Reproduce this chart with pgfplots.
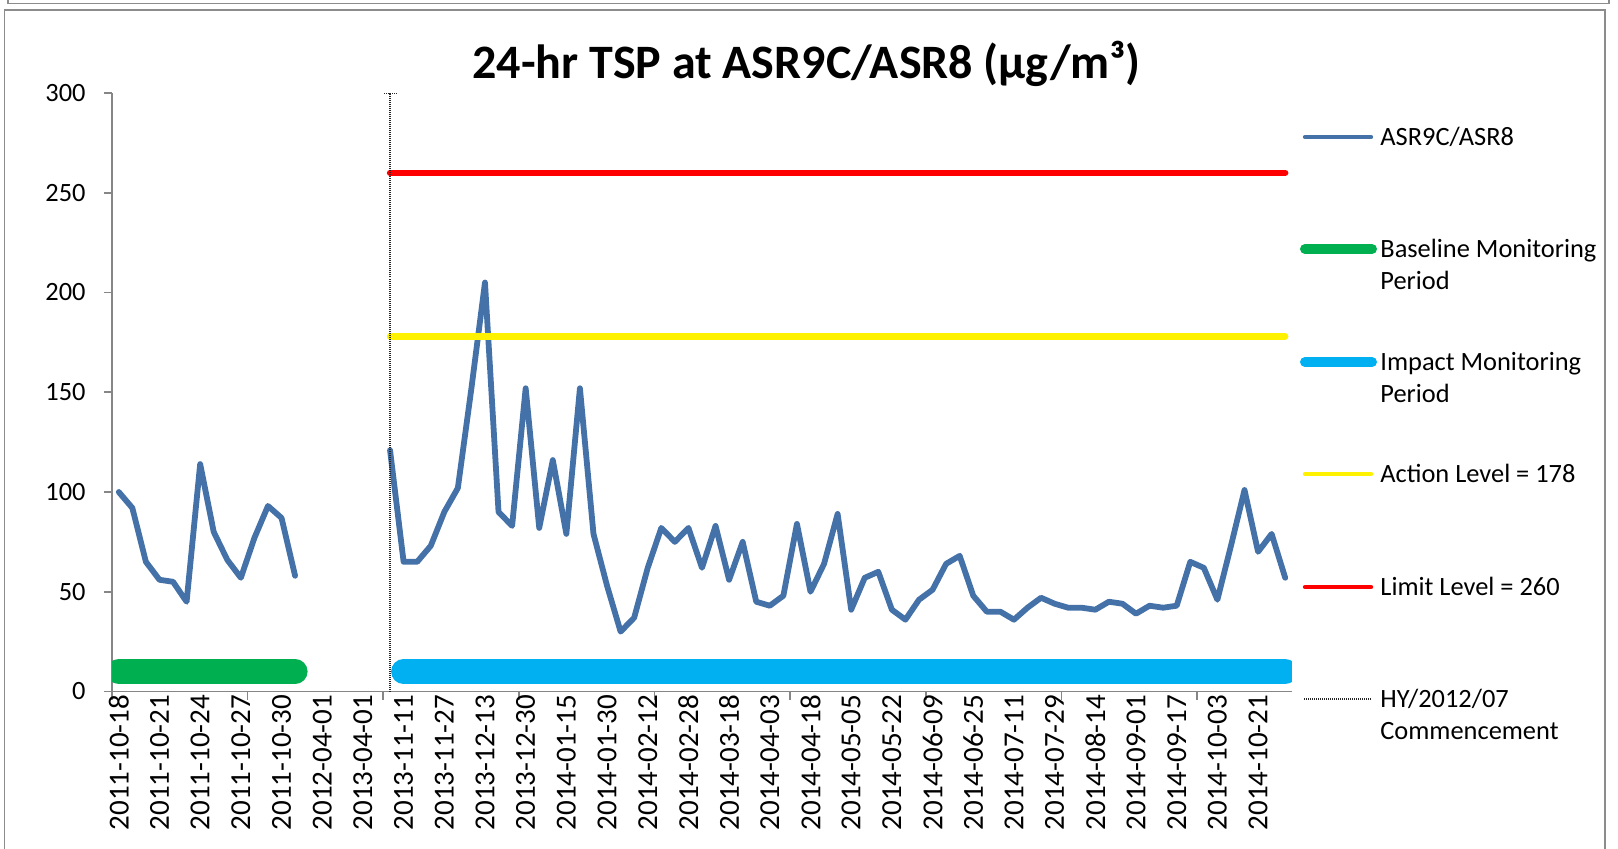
\documentclass[border=0pt]{standalone}
\usepackage{pgfplots}
\pgfplotsset{compat=1.18}
\usepackage{fontspec}
\setmainfont{Carlito}
\definecolor{serblue}{HTML}{4472A8}
\definecolor{basegreen}{HTML}{00B050}
\definecolor{impcyan}{HTML}{00B0F0}
\definecolor{axisgray}{HTML}{868686}
\definecolor{framegray}{HTML}{8C8C8C}
\newcommand\legfont{\fontsize{13.2}{16}\selectfont}
\begin{document}
\begin{tikzpicture}
\path[use as bounding box] (0,0) rectangle (809pt,424pt);
\draw[framegray, line width=0.75pt] (2.25pt,-2pt) -- (2.25pt,419pt) -- (802.5pt,419pt) -- (802.5pt,-2pt);
\draw[framegray, line width=0.75pt] (4pt,426pt) -- (4pt,422.35pt) -- (804.5pt,422.35pt) -- (804.5pt,426pt);
\node[font=\fontsize{24}{28}\selectfont\bfseries, anchor=base, inner sep=0pt] at (403.3pt,384.75pt) {24-hr TSP at ASR9C/ASR8 (µg/m³)};
\begin{axis}[
  at={(56pt,78.25pt)}, anchor=south west, scale only axis,
  width=590pt, height=299.25pt,
  xmin=-0.5, xmax=86.5, ymin=0, ymax=300,
  axis x line*=bottom, axis y line*=left,
  axis line style={-, draw=axisgray, line width=0.8pt},
  ytick={0,50,...,300},
  xtick={-0.5,9.5,...,79.5}, xticklabels={},
  extra x ticks={0,3,...,84},
  extra x tick labels={2011-10-18,2011-10-21,2011-10-24,2011-10-27,2011-10-30,2012-04-01,2013-04-01,2013-11-11,2013-11-27,2013-12-13,2013-12-30,2014-01-15,2014-01-30,2014-02-12,2014-02-28,2014-03-18,2014-04-03,2014-04-18,2014-05-05,2014-05-22,2014-06-09,2014-06-25,2014-07-11,2014-07-29,2014-08-14,2014-09-01,2014-09-17,2014-10-03,2014-10-21},
  extra x tick style={major tick length=0pt, tick label style={rotate=90, anchor=east, inner sep=0pt, xshift=-1.5pt, font=\fontsize{14.5}{16}\selectfont}},
  tick align=outside, major tick length=4pt,
  tick style={draw=axisgray, line width=0.8pt},
  tick label style={font=\legfont},
  /pgf/number format/assume math mode=true,
  yticklabel style={inner sep=0pt, xshift=-9pt},
  clip=true,
]
\addplot[serblue, line width=2.9pt, line join=round, line cap=round] coordinates {
(0,100) (1,92) (2,65) (3,56) (4,55) (5,45) (6,114) (7,80) (8,66) (9,57) (10,77) (11,93) (12,87) (13,58)};
\addplot[serblue, line width=2.9pt, line join=round, line cap=round] coordinates {
(20,121) (21,65) (22,65) (23,73) (24,90) (25,102) (26,152) (27,205) (28,90) (29,83)
(30,152) (31,82) (32,116) (33,79) (34,152) (35,79) (36,53) (37,30) (38,37) (39,62)
(40,82) (41,75) (42,82) (43,62) (44,83) (45,56) (46,75) (47,45) (48,43) (49,48)
(50,84) (51,50) (52,64) (53,89) (54,41) (55,57) (56,60) (57,41) (58,36) (59,46)
(60,51) (61,64) (62,68) (63,48) (64,40) (65,40) (66,36) (67,42) (68,47) (69,44)
(70,42) (71,42) (72,41) (73,45) (74,44) (75,39) (76,43) (77,42) (78,43) (79,65)
(80,62) (81,46) (82,73) (83,101) (84,70) (85,79) (86,57)};
\addplot[basegreen, line width=12.5pt, line cap=round] coordinates {(0,10) (13,10)};
\addplot[impcyan, line width=12.5pt, line cap=round] coordinates {(21,10) (86,10)};
\addplot[yellow, line width=3.2pt, line cap=round] coordinates {(20,178) (86,178)};
\addplot[red, line width=3.2pt, line cap=round] coordinates {(20,260) (86,260)};
\addplot[black!85, line width=0.55pt, dash pattern=on 0.5pt off 0.5pt] coordinates {(20,0) (20,300)};
\addplot[black!85, line width=0.55pt, dash pattern=on 0.5pt off 0.5pt] coordinates {(19.55,300) (20.45,300)};
\end{axis}
% legend
\draw[serblue, line width=2.2pt, line cap=round] (652.5pt,355.5pt) -- (685.5pt,355.5pt);
\node[anchor=base west, inner sep=0pt, font=\legfont] at (690pt,351.25pt) {ASR9C/ASR8};
\draw[basegreen, line width=5pt, line cap=round] (652.5pt,299.5pt) -- (686pt,299.5pt);
\node[anchor=base west, inner sep=0pt, font=\legfont] at (690pt,295.25pt) {Baseline Monitoring};
\node[anchor=base west, inner sep=0pt, font=\legfont] at (690pt,279.25pt) {Period};
\draw[impcyan, line width=5pt, line cap=round] (652.5pt,243pt) -- (686pt,243pt);
\node[anchor=base west, inner sep=0pt, font=\legfont] at (690pt,238.75pt) {Impact Monitoring};
\node[anchor=base west, inner sep=0pt, font=\legfont] at (690pt,222.75pt) {Period};
\draw[yellow, line width=2.2pt, line cap=round] (652.5pt,187pt) -- (685.5pt,187pt);
\node[anchor=base west, inner sep=0pt, font=\legfont] at (690pt,182.75pt) {Action Level = 178};
\draw[red, line width=2.2pt, line cap=round] (652.5pt,130.5pt) -- (685.5pt,130.5pt);
\node[anchor=base west, inner sep=0pt, font=\legfont] at (690pt,126.25pt) {Limit Level = 260};
\draw[black!85, line width=0.55pt, dash pattern=on 0.5pt off 0.5pt] (652pt,74.5pt) -- (686pt,74.5pt);
\node[anchor=base west, inner sep=0pt, font=\legfont] at (690pt,70.25pt) {HY/2012/07};
\node[anchor=base west, inner sep=0pt, font=\legfont] at (690pt,54.25pt) {Commencement};
\end{tikzpicture}
\end{document}
